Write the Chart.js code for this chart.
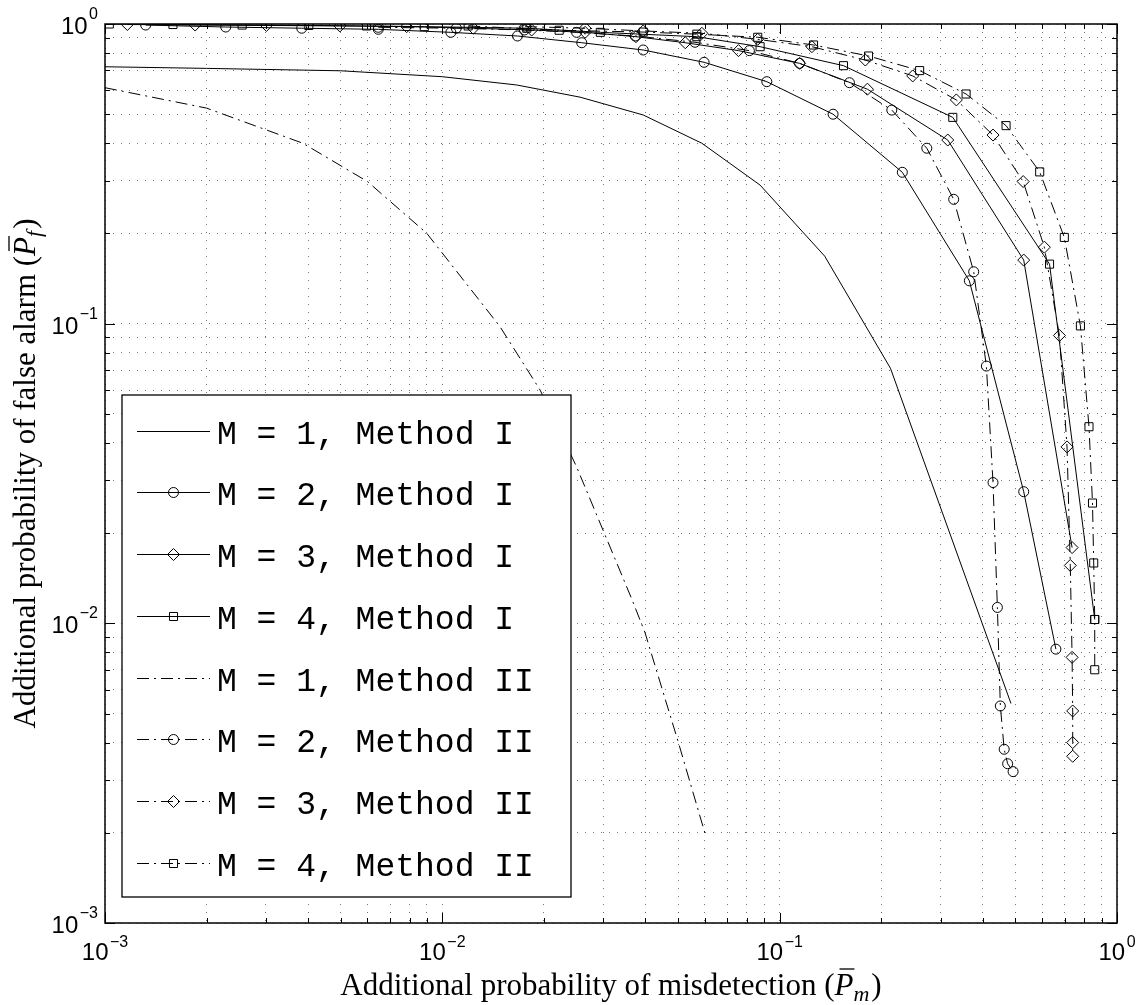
<!DOCTYPE html>
<html>
<head>
<meta charset="utf-8">
<script src="https://cdn.jsdelivr.net/npm/chart.js@4"></script>
<style>
  html, body { margin: 0; padding: 0; background: #fff; }
  #wrap { width: 1144px; height: 1005px; position: relative; }
</style>
</head>
<body>
<div id="wrap"><canvas id="roc"></canvas></div>
<script>
// decades on the two log axes (tick labels are 10^e)
const xExponents = [-3, -2, -1, 0];
const yExponents = [-3, -2, -1, 0];

const seriesLabels = [
  'M = 1, Method I', 'M = 2, Method I', 'M = 3, Method I', 'M = 4, Method I',
  'M = 1, Method II', 'M = 2, Method II', 'M = 3, Method II', 'M = 4, Method II'
];

const xTitle = 'Additional probability of misdetection (';
const yTitle = 'Additional probability of false alarm (';

// Method I
const m1aX = [0.001, 0.002, 0.005, 0.01, 0.0166, 0.0256, 0.0394, 0.0588, 0.0875, 0.136, 0.213, 0.485];
const m1aY = [0.72, 0.711, 0.698, 0.667, 0.626, 0.57, 0.497, 0.40, 0.29, 0.168, 0.071, 0.0054];

const m2aX = [0.00132, 0.00228, 0.00383, 0.00646, 0.0106, 0.0167, 0.0259, 0.0394, 0.0597, 0.0916, 0.144, 0.231, 0.365, 0.529, 0.659];
const m2aY = [0.992, 0.977, 0.968, 0.96, 0.938, 0.912, 0.866, 0.819, 0.745, 0.642, 0.50, 0.32, 0.139, 0.0275, 0.0082];

const m3aX = [0.001165, 0.00185, 0.00301, 0.00497, 0.00784, 0.01235, 0.0184, 0.0265, 0.0375, 0.0525, 0.0755, 0.1146, 0.182, 0.315, 0.529, 0.736];
const m3aY = [0.996, 0.992, 0.989, 0.985, 0.98, 0.968, 0.955, 0.938, 0.907, 0.866, 0.815, 0.739, 0.606, 0.41, 0.163, 0.0179];

const m4aX = [0.00103, 0.00159, 0.00255, 0.00402, 0.00596, 0.00884, 0.0178, 0.0294, 0.0568, 0.0875, 0.1546, 0.326, 0.631, 0.859];
const m4aY = [1.0, 0.996, 0.992, 0.989, 0.985, 0.98, 0.968, 0.938, 0.907, 0.84, 0.726, 0.488, 0.158, 0.0103];

// Method II
const m1bX = [0.001, 0.002, 0.00386, 0.006, 0.009, 0.0148, 0.0195, 0.025, 0.0365, 0.0399, 0.0501, 0.06];
const m1bY = [0.613, 0.524, 0.40, 0.298, 0.20, 0.098, 0.060, 0.0333, 0.012, 0.0093, 0.0040, 0.002];

const m2bX = [0.00646, 0.011, 0.0175, 0.025, 0.0373, 0.0561, 0.0813, 0.1146, 0.161, 0.215, 0.273, 0.328, 0.376, 0.410, 0.429, 0.442, 0.451, 0.463, 0.474, 0.492];
const m2bY = [0.975, 0.968, 0.955, 0.938, 0.912, 0.869, 0.815, 0.739, 0.637, 0.516, 0.385, 0.26, 0.149, 0.0722, 0.0295, 0.0113, 0.0053, 0.0038, 0.0034, 0.0032];

const m3bX = [0.0176, 0.0265, 0.0394, 0.0588, 0.0861, 0.1246, 0.1794, 0.248, 0.334, 0.429, 0.527, 0.609, 0.675, 0.711, 0.727, 0.736, 0.739, 0.739, 0.739];
const m3bY = [0.98, 0.968, 0.948, 0.931, 0.889, 0.84, 0.758, 0.671, 0.558, 0.426, 0.298, 0.180, 0.0913, 0.0388, 0.0156, 0.0077, 0.0051, 0.0040, 0.0036];

const m4bX = [0.01193, 0.0222, 0.0394, 0.0568, 0.0861, 0.126, 0.1834, 0.260, 0.357, 0.469, 0.590, 0.698, 0.779, 0.826, 0.846, 0.853, 0.859, 0.859];
const m4bY = [0.985, 0.953, 0.94, 0.925, 0.903, 0.851, 0.782, 0.699, 0.584, 0.458, 0.321, 0.194, 0.0983, 0.0453, 0.0252, 0.0159, 0.0103, 0.0070];

const xs = [m1aX, m2aX, m3aX, m4aX, m1bX, m2bX, m3bX, m4bX];
const ys = [m1aY, m2aY, m3aY, m4aY, m1bY, m2bY, m3bY, m4bY];

const markers = [false, 'circle', 'rectRot', 'rect', false, 'circle', 'rectRot', 'rect'];
const markerSize = { circle: 5, rectRot: 6, rect: 5.7 };
const dashDot = [12, 5, 2, 5];

const SANS = '"Liberation Sans", Arial, sans-serif';
const SERIF = '"Liberation Serif", "DejaVu Serif", serif';
const MONO = '"Liberation Mono", "DejaVu Sans Mono", monospace';

function gridValues(exps) {
  const vals = [];
  exps.forEach((e, i) => {
    if (i === exps.length - 1) { vals.push(Math.pow(10, e)); return; }
    for (let k = 1; k <= 9; k++) vals.push(+(k * Math.pow(10, e)).toPrecision(3));
  });
  return vals;
}

const datasets = seriesLabels.map((label, i) => {
  const style = markers[i];
  return {
    label: label,
    data: xs[i].map((x, j) => ({ x: x, y: ys[i][j] })),
    borderColor: '#000',
    borderWidth: 1,
    borderDash: i >= 4 ? dashDot : [],
    tension: 0,
    fill: false,
    pointStyle: style || 'circle',
    pointRadius: style ? markerSize[style] : 0,
    pointHoverRadius: style ? markerSize[style] : 0,
    pointBorderColor: '#000',
    pointBorderWidth: 1,
    pointBackgroundColor: 'rgba(255,255,255,0)'
  };
});

// "10" with a superscript exponent
function drawPower(ctx, exp, x, y, align, supRise) {
  const base = '10';
  const sup = exp === 0 ? '0' : '\u2212' + Math.abs(exp);
  ctx.font = '24px ' + SANS;
  const wb = ctx.measureText(base).width;
  ctx.font = '16px ' + SANS;
  const ws = ctx.measureText(sup).width;
  const total = wb + 1.5 + ws;
  const x0 = align === 'right' ? x - total : x - total / 2;
  ctx.textAlign = 'left';
  ctx.textBaseline = 'alphabetic';
  ctx.font = '24px ' + SANS;
  ctx.fillText(base, x0, y);
  ctx.font = '16px ' + SANS;
  ctx.fillText(sup, x0 + wb + 1.5, y - supRise);
}

// axis title ending in "(P̄_s)"
function drawTitle(ctx, text, sub, cx, baseY) {
  const reg = '31px ' + SERIF;
  const ital = 'italic 31px ' + SERIF;
  const small = 'italic 22px ' + SERIF;
  ctx.textAlign = 'left';
  ctx.textBaseline = 'alphabetic';
  ctx.font = reg; const w1 = ctx.measureText(text).width; const wc = ctx.measureText(')').width;
  ctx.font = ital; const wp = ctx.measureText('P').width;
  ctx.font = small; const ws = ctx.measureText(sub).width;
  const total = w1 + wp + ws + 2 + wc;
  let x = cx - total / 2;
  ctx.font = reg; ctx.fillText(text, x, baseY); x += w1;
  ctx.font = ital; ctx.fillText('P', x, baseY);
  ctx.beginPath();
  ctx.lineWidth = 1.3;
  ctx.moveTo(x + 5, baseY - 26);
  ctx.lineTo(x + wp + 1, baseY - 26);
  ctx.stroke();
  x += wp;
  ctx.font = small; ctx.fillText(sub, x, baseY + 6); x += ws + 2;
  ctx.font = reg; ctx.fillText(')', x, baseY);
}

function drawMarker(ctx, style, x, y) {
  const opts = { pointStyle: style, radius: markerSize[style], borderWidth: 1, rotation: 0 };
  ctx.fillStyle = 'rgba(255,255,255,0)';
  ctx.strokeStyle = '#000';
  ctx.lineWidth = 1;
  ctx.setLineDash([]);
  if (Chart.helpers && Chart.helpers.drawPoint) {
    Chart.helpers.drawPoint(ctx, opts, x, y);
    return;
  }
  const r = markerSize[style];
  ctx.beginPath();
  if (style === 'circle') ctx.arc(x, y, r, 0, Math.PI * 2);
  else if (style === 'rect') { const s = r * Math.SQRT1_2; ctx.rect(x - s, y - s, 2 * s, 2 * s); }
  else { ctx.moveTo(x, y - r); ctx.lineTo(x + r, y); ctx.lineTo(x, y + r); ctx.lineTo(x - r, y); ctx.closePath(); }
  ctx.stroke();
}

const axesFrame = {
  id: 'axesFrame',
  afterDatasetsDraw(chart) {
    const ctx = chart.ctx;
    const a = chart.chartArea;
    const sx = chart.scales.x, sy = chart.scales.y;
    ctx.save();
    ctx.strokeStyle = '#000';
    ctx.fillStyle = '#000';
    ctx.setLineDash([]);

    // inward tick marks on all four sides
    ctx.lineWidth = 1;
    ctx.beginPath();
    gridValues(xExponents).forEach(v => {
      const px = Math.round(sx.getPixelForValue(v)) + 0.5;
      const len = Math.abs(Math.log10(v) % 1) < 1e-6 ? 10 : 5;
      ctx.moveTo(px, a.bottom); ctx.lineTo(px, a.bottom - len);
      ctx.moveTo(px, a.top); ctx.lineTo(px, a.top + len);
    });
    gridValues(yExponents).forEach(v => {
      const py = Math.round(sy.getPixelForValue(v)) + 0.5;
      const len = Math.abs(Math.log10(v) % 1) < 1e-6 ? 10 : 5;
      ctx.moveTo(a.left, py); ctx.lineTo(a.left + len, py);
      ctx.moveTo(a.right, py); ctx.lineTo(a.right - len, py);
    });
    ctx.stroke();

    // axes box
    ctx.lineWidth = 1.5;
    ctx.strokeRect(a.left, a.top, a.right - a.left, a.bottom - a.top);

    // tick labels
    xExponents.forEach(e => drawPower(ctx, e, sx.getPixelForValue(Math.pow(10, e)), a.bottom + 37, 'center', 13));
    yExponents.forEach(e => drawPower(ctx, e, a.left - 7, sy.getPixelForValue(Math.pow(10, e)) + 10, 'right', 15));

    // axis titles
    drawTitle(ctx, xTitle, 'm', (a.left + a.right) / 2, 995);
    ctx.save();
    ctx.translate(35, (a.top + a.bottom) / 2);
    ctx.rotate(-Math.PI / 2);
    drawTitle(ctx, yTitle, 'f', 0, 0);
    ctx.restore();

    // legend box
    const box = { left: 122, top: 395, right: 571, bottom: 897 };
    ctx.fillStyle = '#fff';
    ctx.fillRect(box.left, box.top, box.right - box.left, box.bottom - box.top);
    ctx.lineWidth = 1.3;
    ctx.strokeStyle = '#000';
    ctx.strokeRect(box.left, box.top, box.right - box.left, box.bottom - box.top);

    const rowGap = 61.7;
    chart.data.datasets.forEach((ds, i) => {
      const cy = Math.round(box.top + 35.7 + i * rowGap) + 0.5;
      ctx.lineWidth = 1;
      ctx.strokeStyle = '#000';
      ctx.setLineDash(ds.borderDash);
      ctx.beginPath();
      ctx.moveTo(137, cy);
      ctx.lineTo(210, cy);
      ctx.stroke();
      if (markers[i]) drawMarker(ctx, markers[i], 173.5, cy);
      ctx.setLineDash([]);
      ctx.fillStyle = '#000';
      ctx.font = '33px ' + MONO;
      ctx.textAlign = 'left';
      ctx.textBaseline = 'alphabetic';
      ctx.fillText(ds.label, 217, cy + 12);
    });
    ctx.restore();
  }
};

const logAxis = (exps, pos) => ({
  type: 'logarithmic',
  position: pos,
  min: Math.pow(10, exps[0]),
  max: Math.pow(10, exps[exps.length - 1]),
  afterBuildTicks: scale => { scale.ticks = gridValues(exps).map(v => ({ value: v })); },
  ticks: { display: false },
  grid: { color: 'rgba(0,0,0,0.55)', lineWidth: 1, drawTicks: false },
  border: { display: false, dash: [1, 7] }
});

new Chart(document.getElementById('roc'), {
  type: 'line',
  data: { datasets: datasets },
  options: {
    responsive: true,
    maintainAspectRatio: false,
    animation: false,
    events: [],
    layout: { padding: { left: 105, top: 24, right: 27, bottom: 82 } },
    plugins: { legend: { display: false }, tooltip: { enabled: false } },
    scales: {
      x: logAxis(xExponents, 'bottom'),
      y: logAxis(yExponents, 'left')
    }
  },
  plugins: [axesFrame]
});
</script>
</body>
</html>
